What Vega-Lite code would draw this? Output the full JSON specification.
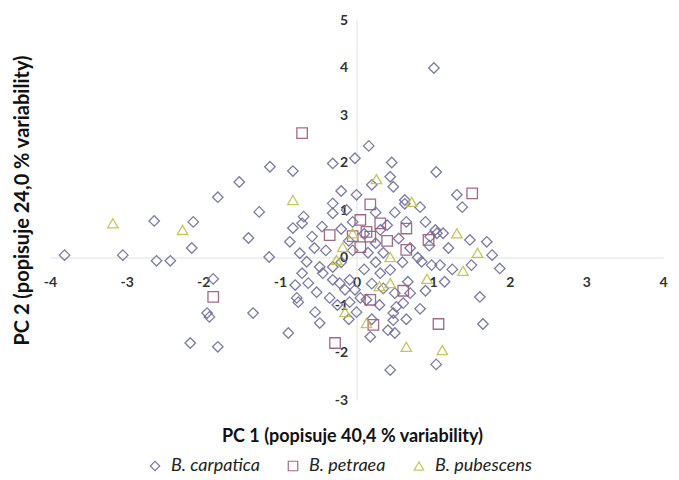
{
  "$schema": "https://vega.github.io/schema/vega-lite/v6.json",
  "width": 613,
  "height": 380,
  "autosize": {"type": "none"},
  "padding": {"left": 50, "top": 20, "right": 16, "bottom": 80},
  "background": "white",
  "config": {"view": {"stroke": null}, "font": "Lato"},
  "data": {"values": [
    {"s":"B. carpatica","x":-3.81,"y":0.05},{"s":"B. carpatica","x":-3.05,"y":0.05},{"s":"B. carpatica","x":-2.64,"y":0.77},{"s":"B. carpatica","x":-2.61,"y":-0.07},{"s":"B. carpatica","x":-2.43,"y":-0.07},
    {"s":"B. carpatica","x":-2.13,"y":0.75},{"s":"B. carpatica","x":-2.15,"y":0.2},{"s":"B. carpatica","x":-1.87,"y":-0.45},{"s":"B. carpatica","x":-1.95,"y":-1.17},{"s":"B. carpatica","x":-1.92,"y":-1.25},
    {"s":"B. carpatica","x":-2.17,"y":-1.8},{"s":"B. carpatica","x":-1.81,"y":-1.88},{"s":"B. carpatica","x":-1.81,"y":1.27},{"s":"B. carpatica","x":-1.53,"y":1.59},{"s":"B. carpatica","x":-1.13,"y":1.91},
    {"s":"B. carpatica","x":-0.83,"y":1.82},{"s":"B. carpatica","x":-1.27,"y":0.96},{"s":"B. carpatica","x":-1.41,"y":0.41},{"s":"B. carpatica","x":-1.35,"y":-1.17},{"s":"B. carpatica","x":-0.89,"y":-1.59},
    {"s":"B. carpatica","x":-1.14,"y":0.01},{"s":"B. carpatica","x":1.01,"y":3.99},{"s":"B. carpatica","x":0.16,"y":2.35},{"s":"B. carpatica","x":-0.02,"y":2.09},{"s":"B. carpatica","x":0.46,"y":2.0},
    {"s":"B. carpatica","x":1.04,"y":1.8},{"s":"B. carpatica","x":0.44,"y":1.7},{"s":"B. carpatica","x":0.48,"y":1.49},{"s":"B. carpatica","x":0.2,"y":1.53},{"s":"B. carpatica","x":0.0,"y":1.32},
    {"s":"B. carpatica","x":-0.13,"y":1.0},{"s":"B. carpatica","x":-0.31,"y":1.98},{"s":"B. carpatica","x":-0.31,"y":1.14},{"s":"B. carpatica","x":0.63,"y":1.21},{"s":"B. carpatica","x":0.63,"y":1.13},
    {"s":"B. carpatica","x":0.83,"y":1.06},{"s":"B. carpatica","x":1.31,"y":1.32},{"s":"B. carpatica","x":1.38,"y":1.06},{"s":"B. carpatica","x":0.4,"y":0.68},{"s":"B. carpatica","x":0.31,"y":0.58},
    {"s":"B. carpatica","x":1.05,"y":0.51},{"s":"B. carpatica","x":1.13,"y":0.51},{"s":"B. carpatica","x":1.48,"y":0.37},{"s":"B. carpatica","x":1.7,"y":0.33},{"s":"B. carpatica","x":1.77,"y":0.05},
    {"s":"B. carpatica","x":1.87,"y":-0.23},{"s":"B. carpatica","x":1.5,"y":-0.16},{"s":"B. carpatica","x":1.61,"y":-0.83},{"s":"B. carpatica","x":1.65,"y":-1.4},{"s":"B. carpatica","x":1.04,"y":-2.25},
    {"s":"B. carpatica","x":0.44,"y":-2.37},{"s":"B. carpatica","x":0.18,"y":-1.67},{"s":"B. carpatica","x":0.41,"y":-1.53},{"s":"B. carpatica","x":0.5,"y":-1.59},{"s":"B. carpatica","x":0.48,"y":-1.17},
    {"s":"B. carpatica","x":0.65,"y":-1.3},{"s":"B. carpatica","x":0.83,"y":-1.08},{"s":"B. carpatica","x":0.61,"y":-0.96},{"s":"B. carpatica","x":0.67,"y":-0.51},{"s":"B. carpatica","x":1.15,"y":-0.51},
    {"s":"B. carpatica","x":0.85,"y":-0.09},{"s":"B. carpatica","x":0.98,"y":-0.16},{"s":"B. carpatica","x":1.09,"y":-0.16},{"s":"B. carpatica","x":1.03,"y":0.58},{"s":"B. carpatica","x":0.96,"y":0.44},
    {"s":"B. carpatica","x":-0.69,"y":0.86},{"s":"B. carpatica","x":-0.83,"y":0.62},{"s":"B. carpatica","x":-0.71,"y":0.72},{"s":"B. carpatica","x":-0.58,"y":0.44},{"s":"B. carpatica","x":-0.87,"y":0.33},
    {"s":"B. carpatica","x":-0.74,"y":0.09},{"s":"B. carpatica","x":-0.65,"y":-0.09},{"s":"B. carpatica","x":-0.48,"y":-0.2},{"s":"B. carpatica","x":-0.71,"y":-0.33},{"s":"B. carpatica","x":-0.8,"y":-0.58},
    {"s":"B. carpatica","x":-0.63,"y":-0.54},{"s":"B. carpatica","x":-0.52,"y":-0.73},{"s":"B. carpatica","x":-0.76,"y":-0.94},{"s":"B. carpatica","x":-0.54,"y":-1.15},{"s":"B. carpatica","x":-0.48,"y":-1.38},
    {"s":"B. carpatica","x":-0.78,"y":-0.85},{"s":"B. carpatica","x":-0.31,"y":0.93},{"s":"B. carpatica","x":-0.31,"y":-0.47},{"s":"B. carpatica","x":-0.22,"y":-0.54},{"s":"B. carpatica","x":-0.09,"y":-0.47},
    {"s":"B. carpatica","x":-0.15,"y":-0.68},{"s":"B. carpatica","x":-0.02,"y":-0.68},{"s":"B. carpatica","x":0.05,"y":-0.85},{"s":"B. carpatica","x":0.13,"y":-0.89},{"s":"B. carpatica","x":-0.09,"y":-0.94},
    {"s":"B. carpatica","x":-0.44,"y":-0.33},{"s":"B. carpatica","x":-0.31,"y":-0.2},{"s":"B. carpatica","x":0.31,"y":-0.33},{"s":"B. carpatica","x":0.44,"y":-0.26},{"s":"B. carpatica","x":0.52,"y":-1.04},
    {"s":"B. carpatica","x":0.48,"y":-1.32},{"s":"B. carpatica","x":-0.2,"y":0.6},{"s":"B. carpatica","x":-0.1,"y":0.35},{"s":"B. carpatica","x":0.1,"y":0.5},{"s":"B. carpatica","x":0.25,"y":0.3},
    {"s":"B. carpatica","x":-0.05,"y":0.15},{"s":"B. carpatica","x":0.15,"y":0.1},{"s":"B. carpatica","x":0.35,"y":0.1},{"s":"B. carpatica","x":0.55,"y":0.4},{"s":"B. carpatica","x":0.7,"y":0.2},
    {"s":"B. carpatica","x":0.8,"y":0.0},{"s":"B. carpatica","x":0.6,"y":-0.1},{"s":"B. carpatica","x":0.25,"y":-0.1},{"s":"B. carpatica","x":0.1,"y":-0.25},{"s":"B. carpatica","x":-0.2,"y":-0.1},
    {"s":"B. carpatica","x":-0.4,"y":0.15},{"s":"B. carpatica","x":-0.55,"y":0.2},{"s":"B. carpatica","x":0.2,"y":-0.55},{"s":"B. carpatica","x":0.35,"y":-0.65},{"s":"B. carpatica","x":0.5,"y":-0.75},
    {"s":"B. carpatica","x":0.7,"y":-0.75},{"s":"B. carpatica","x":0.3,"y":-1.0},{"s":"B. carpatica","x":0.0,"y":-1.15},{"s":"B. carpatica","x":-0.25,"y":-1.0},{"s":"B. carpatica","x":-0.35,"y":-0.85},
    {"s":"B. carpatica","x":0.9,"y":-0.7},{"s":"B. carpatica","x":0.95,"y":0.25},{"s":"B. carpatica","x":0.65,"y":0.75},{"s":"B. carpatica","x":0.5,"y":0.95},{"s":"B. carpatica","x":0.25,"y":0.95},
    {"s":"B. carpatica","x":-0.05,"y":0.75},{"s":"B. carpatica","x":-0.45,"y":0.65},{"s":"B. carpatica","x":-0.2,"y":1.4},{"s":"B. carpatica","x":0.9,"y":0.75},{"s":"B. carpatica","x":1.2,"y":0.2},
    {"s":"B. carpatica","x":1.25,"y":-0.25},{"s":"B. carpatica","x":0.2,"y":-1.3},{"s":"B. carpatica","x":-0.1,"y":-1.3},
    {"s":"B. petraea","x":-0.71,"y":2.62},{"s":"B. petraea","x":1.51,"y":1.35},{"s":"B. petraea","x":0.18,"y":1.12},{"s":"B. petraea","x":0.65,"y":0.61},{"s":"B. petraea","x":0.05,"y":0.79},
    {"s":"B. petraea","x":0.31,"y":0.72},{"s":"B. petraea","x":0.18,"y":0.44},{"s":"B. petraea","x":0.13,"y":0.54},{"s":"B. petraea","x":0.05,"y":0.22},{"s":"B. petraea","x":-0.35,"y":0.47},
    {"s":"B. petraea","x":0.65,"y":0.16},{"s":"B. petraea","x":0.94,"y":0.37},{"s":"B. petraea","x":-1.87,"y":-0.83},{"s":"B. petraea","x":-0.28,"y":-1.8},{"s":"B. petraea","x":0.61,"y":-0.7},
    {"s":"B. petraea","x":0.18,"y":-0.89},{"s":"B. petraea","x":0.22,"y":-1.42},{"s":"B. petraea","x":1.07,"y":-1.4},{"s":"B. petraea","x":0.4,"y":0.35},{"s":"B. petraea","x":-0.05,"y":0.45},
    {"s":"B. pubescens","x":-3.18,"y":0.72},{"s":"B. pubescens","x":-2.27,"y":0.58},{"s":"B. pubescens","x":-0.83,"y":1.21},{"s":"B. pubescens","x":0.26,"y":1.65},{"s":"B. pubescens","x":0.72,"y":1.17},
    {"s":"B. pubescens","x":1.31,"y":0.51},{"s":"B. pubescens","x":1.58,"y":0.1},{"s":"B. pubescens","x":1.39,"y":-0.28},{"s":"B. pubescens","x":0.92,"y":-0.45},{"s":"B. pubescens","x":0.44,"y":-0.54},
    {"s":"B. pubescens","x":0.13,"y":-1.38},{"s":"B. pubescens","x":0.65,"y":-1.88},{"s":"B. pubescens","x":1.12,"y":-1.95},{"s":"B. pubescens","x":-0.15,"y":-1.15},{"s":"B. pubescens","x":-0.26,"y":-0.05},
    {"s":"B. pubescens","x":-0.18,"y":0.22},{"s":"B. pubescens","x":-0.05,"y":0.51},{"s":"B. pubescens","x":0.44,"y":0.01},{"s":"B. pubescens","x":0.3,"y":-0.6}
  ]},
  "mark": {"type": "point", "filled": false, "size": 110, "strokeWidth": 1.3, "opacity": 0.9},
  "encoding": {
    "x": {
      "field": "x", "type": "quantitative",
      "scale": {"domain": [-4, 4], "nice": false, "zero": false},
      "axis": {
        "title": "PC 1 (popisuje 40,4 % variability)",
        "offset": -142.5, "values": [-4,-3,-2,-1,0,1,2,3,4],
        "labelExpr": "toString(datum.value)",
        "grid": false, "ticks": false, "domainColor": "#e0e0e0", "domainWidth": 1,
        "labelPadding": 18, "labelFont": "Lato", "labelFontSize": 14, "labelFontWeight": "bold", "labelColor": "#333333",
        "labelFlush": false, "labelOverlap": false,
        "titleFont": "Lato", "titleFontSize": 18, "titleFontWeight": "bold", "titleColor": "#111111",
        "titleX": 302, "titleY": 178.5, "titleBaseline": "middle", "titleAlign": "center"
      }
    },
    "y": {
      "field": "y", "type": "quantitative",
      "scale": {"domain": [-3, 5], "nice": false, "zero": false},
      "axis": {
        "title": "PC 2 (popisuje 24,0 % variability)",
        "offset": -306.5, "values": [-3,-2,-1,0,1,2,3,4,5],
        "labelExpr": "toString(datum.value)",
        "grid": false, "ticks": false, "domainColor": "#e0e0e0", "domainWidth": 1,
        "labelPadding": 9, "labelFont": "Lato", "labelFontSize": 14, "labelFontWeight": "bold", "labelColor": "#333333",
        "labelFlush": false, "labelOverlap": false,
        "titleFont": "Lato", "titleFontSize": 20, "titleFontWeight": "bold", "titleColor": "#111111",
        "titleX": -334.5, "titleY": 180, "titleBaseline": "middle", "titleAlign": "center", "titleAngle": 270
      }
    },
    "color": {
      "field": "s", "type": "nominal",
      "scale": {"domain": ["B. carpatica", "B. petraea", "B. pubescens"], "range": ["#6e6e9c", "#9a5a78", "#bfc24a"]},
      "legend": {
        "title": null, "orient": "none", "direction": "horizontal",
        "legendX": 96, "legendY": 437,
        "labelFont": "Lato", "labelFontSize": 18, "labelFontStyle": "italic", "labelColor": "#222222",
        "symbolSize": 90, "symbolStrokeWidth": 1.2, "columnPadding": 24, "labelOffset": 7
      }
    },
    "shape": {
      "field": "s", "type": "nominal",
      "scale": {"domain": ["B. carpatica", "B. petraea", "B. pubescens"], "range": ["diamond", "square", "triangle-up"]},
      "legend": null
    }
  }
}
